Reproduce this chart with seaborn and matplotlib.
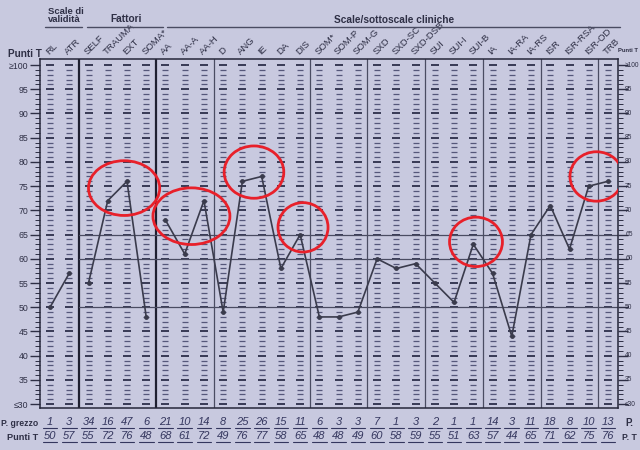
import numpy as np
import pandas as pd
import matplotlib
matplotlib.use("Agg")
import matplotlib.pyplot as plt
from matplotlib.patches import Ellipse
from matplotlib.lines import Line2D
import seaborn as sns

# ---------------- data ----------------
scales = ["RL", "ATR", "SELF", "TRAUMA", "EXT", "SOMA*", "AA", "AA-A", "AA-H",
          "D", "ANG", "IE", "DA", "DIS", "SOM*", "SOM-P", "SOM-G",
          "SXD", "SXD-SC", "SXD-DSB", "SUI", "SUI-I", "SUI-B",
          "IA", "IA-RA", "IA-RS", "ISR", "ISR-RSA", "ISR-OD", "TRB"]
raw_scores = [1, 3, 34, 16, 47, 6, 21, 10, 14, 8, 25, 26, 15, 11, 6, 3, 3,
              7, 1, 3, 2, 1, 1, 14, 3, 11, 18, 8, 10, 13]
t_scores = [50, 57, 55, 72, 76, 48, 68, 61, 72, 49, 76, 77, 58, 65, 48, 48, 49,
            60, 58, 59, 55, 51, 63, 57, 44, 65, 71, 62, 75, 76]
segment = [0, 0, 1, 1, 1, 1] + [2] * 24
group_dividers = [1.5, 5.5, 8.5, 13.5, 16.5, 19.5, 22.5, 25.5, 28.5]
thick_dividers = [1.5, 5.5]
reference_levels = [50, 60, 65]
y_tick_values = list(range(30, 101, 5))
y_tick_labels = ["≤30"] + [str(v) for v in range(35, 100, 5)] + ["≥100"]
headers = ["Scale di\nvalidità", "Fattori", "Scale/sottoscale cliniche"]
# circled regions: (center scale index, center T, width in columns, height in T)
circles = [(3.85, 74.6, 3.7, 11.3), (7.35, 68.8, 4.0, 11.7), (10.6, 77.9, 3.1, 10.8),
           (13.15, 66.5, 2.6, 10.2), (22.14, 63.5, 2.75, 10.2), (28.4, 77.0, 2.75, 10.2)]

df = pd.DataFrame({"pos": np.arange(len(scales)), "scale": scales,
                   "T": t_scores, "segment": segment})

# ---------------- style ----------------
BG = "#c8c9df"
INK = "#2e2f45"
PEN = "#34365e"
sns.set_theme(style="white")
plt.rcParams["font.family"] = ["Liberation Sans", "DejaVu Sans"]

W, H = 640, 450
fig = plt.figure(figsize=(6.4, 4.5), dpi=100, facecolor=BG)
L, R, T, B = 40.4, 617.6, 59, 408
ax = fig.add_axes([L / W, 1 - B / H, (R - L) / W, (B - T) / H])
ax.set_facecolor(BG)
ax.set_xlim(-0.5, 29.5)
ax.set_ylim(29.2, 101.25)

# column rulers (dashes at every T unit)
vals = np.arange(30, 101)
for i in range(len(scales)):
    minor = vals[vals % 5 != 0]
    major = vals[vals % 5 == 0]
    ax.scatter(np.full(minor.size, i), minor, marker="_", s=16, linewidths=0.9,
               color="#55577a", zorder=1)
    ax.scatter(np.full(major.size, i), major, marker="_", s=38, linewidths=1.4,
               color="#383a55", zorder=1)

# dividers
for d in group_dividers:
    lw = 1.6 if d in thick_dividers else 0.9
    col = "#1e1f30" if d in thick_dividers else "#4a4c62"
    ax.axvline(d, color=col, lw=lw, zorder=2)
for lev in reference_levels:
    ax.plot([1.5, 29.5], [lev, lev], color="#4a4c62", lw=0.9, zorder=2)

# profile line
sns.lineplot(data=df, x="pos", y="T", units="segment", estimator=None, sort=False,
             color="#3a3b4c", lw=1.2, marker="o", markersize=3.5,
             markeredgewidth=0, ax=ax, legend=False, zorder=4)

# red circles
for cx, cy, cw, ch in circles:
    ax.add_patch(Ellipse((cx, cy), cw, ch, fill=False, edgecolor="#e8202a",
                         lw=2.0, zorder=5))

# axes / ticks
for s in ax.spines.values():
    s.set_color("#26273a")
    s.set_linewidth(1.1)
ax.set_xticks([])
ax.set_yticks(y_tick_values)
ax.set_yticklabels(y_tick_labels)
ax.set_yticks(range(30, 101), minor=True)
ax.tick_params(axis="y", which="major", left=True, right=True, labelleft=True,
               labelright=False, length=7, width=1.0, color=INK, labelsize=6.3,
               labelcolor=INK, pad=1.5)
ax.tick_params(axis="y", which="minor", left=True, right=True, length=3.5,
               width=0.7, color=INK)
ax.set_xlabel("")
ax.set_ylabel("")

# right-hand tick labels, sized to fit inside the picture
yt = ax.get_yaxis_transform()
xr = 1.0 + 7.6 / (R - L)
for v, lab in zip(y_tick_values, y_tick_labels):
    ax.text(xr, v, lab, transform=yt, ha="left", va="center", fontsize=4.8,
            color=INK, clip_on=False)

# column labels
for i, name in enumerate(scales):
    ax.text(i + 0.02, 1.008, name, transform=ax.get_xaxis_transform(), rotation=45,
            rotation_mode="anchor", ha="left", va="bottom", fontsize=6.8,
            color=INK)

# headers
def fx(px):
    return px / W

def fy(py):
    return 1 - py / H

fig.text(fx(48), fy(15.5), headers[0], fontsize=6.8, fontweight="bold", color=INK,
         ha="left", va="center", linespacing=0.95)
fig.text(fx(110), fy(19), headers[1], fontsize=7.3, fontweight="bold", color=INK,
         ha="left", va="center")
fig.text(fx(394), fy(20), headers[2], fontsize=7.3, fontweight="bold", color=INK,
         ha="center", va="center")
for x0, x1 in [(45, 82), (87, 163), (167, 620)]:
    fig.add_artist(Line2D([fx(x0), fx(x1)], [fy(27), fy(27)], color="#4a4c62",
                          lw=1.0, transform=fig.transFigure))
fig.text(fx(8), fy(54), "Punti T", fontsize=7.2, fontweight="bold", color=INK,
         ha="left", va="center")
fig.text(fx(638), fy(50), "Punti T", fontsize=4.2, fontweight="bold", color=INK,
         ha="right", va="center")

# bottom rows
fig.text(fx(38), fy(423), "P. grezzo", fontsize=6.2, fontweight="bold", color=INK,
         ha="right", va="center")
fig.text(fx(38), fy(437), "Punti T", fontsize=6.6, fontweight="bold", color=INK,
         ha="right", va="center")
fig.text(fx(625), fy(423), "P.", fontsize=7, fontweight="bold", color=INK,
         ha="left", va="center")
fig.text(fx(622), fy(437), "P. T", fontsize=6.2, fontweight="bold", color=INK,
         ha="left", va="center")
xt = ax.get_xaxis_transform()
ypx = lambda py: (B - py) / (B - T)
for i in range(len(scales)):
    ax.text(i, ypx(422), str(raw_scores[i]), transform=xt, ha="center",
            va="center", fontsize=8, fontstyle="italic", color=PEN, clip_on=False)
    ax.text(i, ypx(436), str(t_scores[i]), transform=xt, ha="center",
            va="center", fontsize=8, fontstyle="italic", color=PEN, clip_on=False)
    for yy in (428, 442):
        ax.plot([i - 0.38, i + 0.38], [ypx(yy), ypx(yy)], transform=xt,
                color=PEN, lw=0.8, clip_on=False)

fig.savefig("out.png", dpi=100, facecolor=BG)
